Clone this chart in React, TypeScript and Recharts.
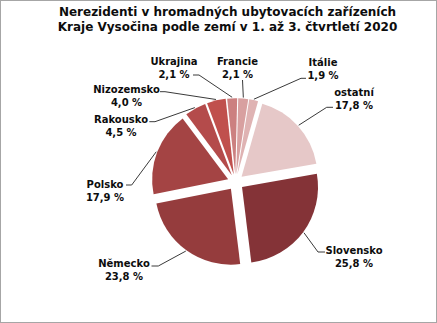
import React from 'react';
import { PieChart, Pie, Cell, Sector } from 'recharts';

const TITLE_LINES = [
  'Nerezidenti v hromadných ubytovacích zařízeních',
  'Kraje Vysočina podle zemí v 1. až 3. čtvrtletí 2020',
];
const COUNTRIES = ['Slovensko', 'Německo', 'Polsko', 'Rakousko', 'Nizozemsko', 'Ukrajina', 'Francie', 'Itálie', 'ostatní'];
const SHARES = [25.8, 23.8, 17.9, 4.5, 4.0, 2.1, 2.1, 1.9, 17.8];
const SHARE_LABELS = ['25,8 %', '23,8 %', '17,9 %', '4,5 %', '4,0 %', '2,1 %', '2,1 %', '1,9 %', '17,8 %'];
const COLORS = ['#843337', '#953c3d', '#a44444', '#b44b4b', '#c0504d', '#cc8080', '#d8a0a0', '#dfb3b3', '#e6c8c8'];

// label layout (text centre of first line, elbow point, end of horizontal tick)
const LABEL_LAYOUT = [
  { tx: 354, ty: 250, ex: 318, ey: 252, hx: 325 },
  { tx: 124, ty: 263.5, ex: 158.3, ey: 266, hx: 151.5 },
  { tx: 105, ty: 184, ex: 131.7, ey: 185, hx: 126 },
  { tx: 121, ty: 119.2, ex: 155, ey: 121.7, hx: 149.3 },
  { tx: 126.5, ty: 89, ex: 165, ey: 91.7, hx: 160 },
  { tx: 174, ty: 61.3, ex: 199, ey: 75, hx: 193 },
  { tx: 237.5, ty: 61.3, ex: 242.5, ey: 80, hx: 242.5 },
  { tx: 323, ty: 62.3, ex: 301, ey: 78.3, hx: 306 },
  { tx: 354, ty: 92, ex: 326.7, ey: 107.3, hx: 333 },
];

const EXPLODE = 8;
const RAD = Math.PI / 180;

const data = COUNTRIES.map((name, i) => ({ name, value: SHARES[i] }));

const renderSlice = (props: any) => {
  const { cx, cy, midAngle, innerRadius, outerRadius, startAngle, endAngle, index } = props;
  const dx = Math.cos(-midAngle * RAD);
  const dy = Math.sin(-midAngle * RAD);
  const ox = cx + EXPLODE * dx;
  const oy = cy + EXPLODE * dy;
  const sx = cx + (outerRadius + EXPLODE + 1) * dx;
  const sy = cy + (outerRadius + EXPLODE + 1) * dy;
  const L = LABEL_LAYOUT[index];
  return (
    <g key={`slice-${index}`}>
      <Sector
        cx={ox}
        cy={oy}
        innerRadius={innerRadius}
        outerRadius={outerRadius}
        startAngle={startAngle}
        endAngle={endAngle}
        fill={COLORS[index]}
        stroke="none"
      />
      <polyline
        points={`${sx},${sy} ${L.ex},${L.ey} ${L.hx},${L.ey}`}
        fill="none"
        stroke="#3a3a3a"
        strokeWidth={1}
      />
      <text
        x={L.tx}
        y={L.ty}
        textAnchor="middle"
        dominantBaseline="central"
        fontFamily="DejaVu Sans"
        fontWeight="bold"
        fontSize={10}
        fill="#0d0d0d"
      >
        {COUNTRIES[index]}
      </text>
      <text
        x={L.tx}
        y={L.ty + 13}
        textAnchor="middle"
        dominantBaseline="central"
        fontFamily="DejaVu Sans"
        fontWeight="bold"
        fontSize={10}
        fill="#0d0d0d"
      >
        {SHARE_LABELS[index]}
      </text>
    </g>
  );
};

export default function App() {
  return (
    <div style={{ position: 'fixed', left: 0, top: 0, width: 437, height: 323, background: '#ffffff' }}>
      <div
        style={{
          position: 'absolute',
          left: 0,
          top: 0,
          width: 435,
          height: 321,
          border: '1px solid #a6a6a6',
        }}
      />
      <div
        style={{
          position: 'absolute',
          left: 0,
          top: 5.4,
          width: 455,
          textAlign: 'center',
          fontFamily: 'DejaVu Sans',
          fontWeight: 'bold',
          fontSize: 12,
          lineHeight: '15px',
          color: '#0d0d0d',
          whiteSpace: 'nowrap',
        }}
      >
        <div>{TITLE_LINES[0]}</div>
        <div>{TITLE_LINES[1]}</div>
      </div>
      <div style={{ position: 'absolute', left: 0, top: 0 }}>
        <PieChart width={437} height={323} margin={{ top: 0, right: 0, bottom: 0, left: 0 }}>
          <Pie
            data={data}
            dataKey="value"
            nameKey="name"
            cx={235.6}
            cy={182.2}
            innerRadius={0}
            outerRadius={76}
            startAngle={10}
            endAngle={-350}
            fill="none"
            stroke="none"
            label={renderSlice}
            labelLine={false}
            isAnimationActive={false}
          >
            {data.map((d, i) => (
              <Cell key={`cell-${i}`} fill="none" stroke="none" />
            ))}
          </Pie>
        </PieChart>
      </div>
    </div>
  );
}
